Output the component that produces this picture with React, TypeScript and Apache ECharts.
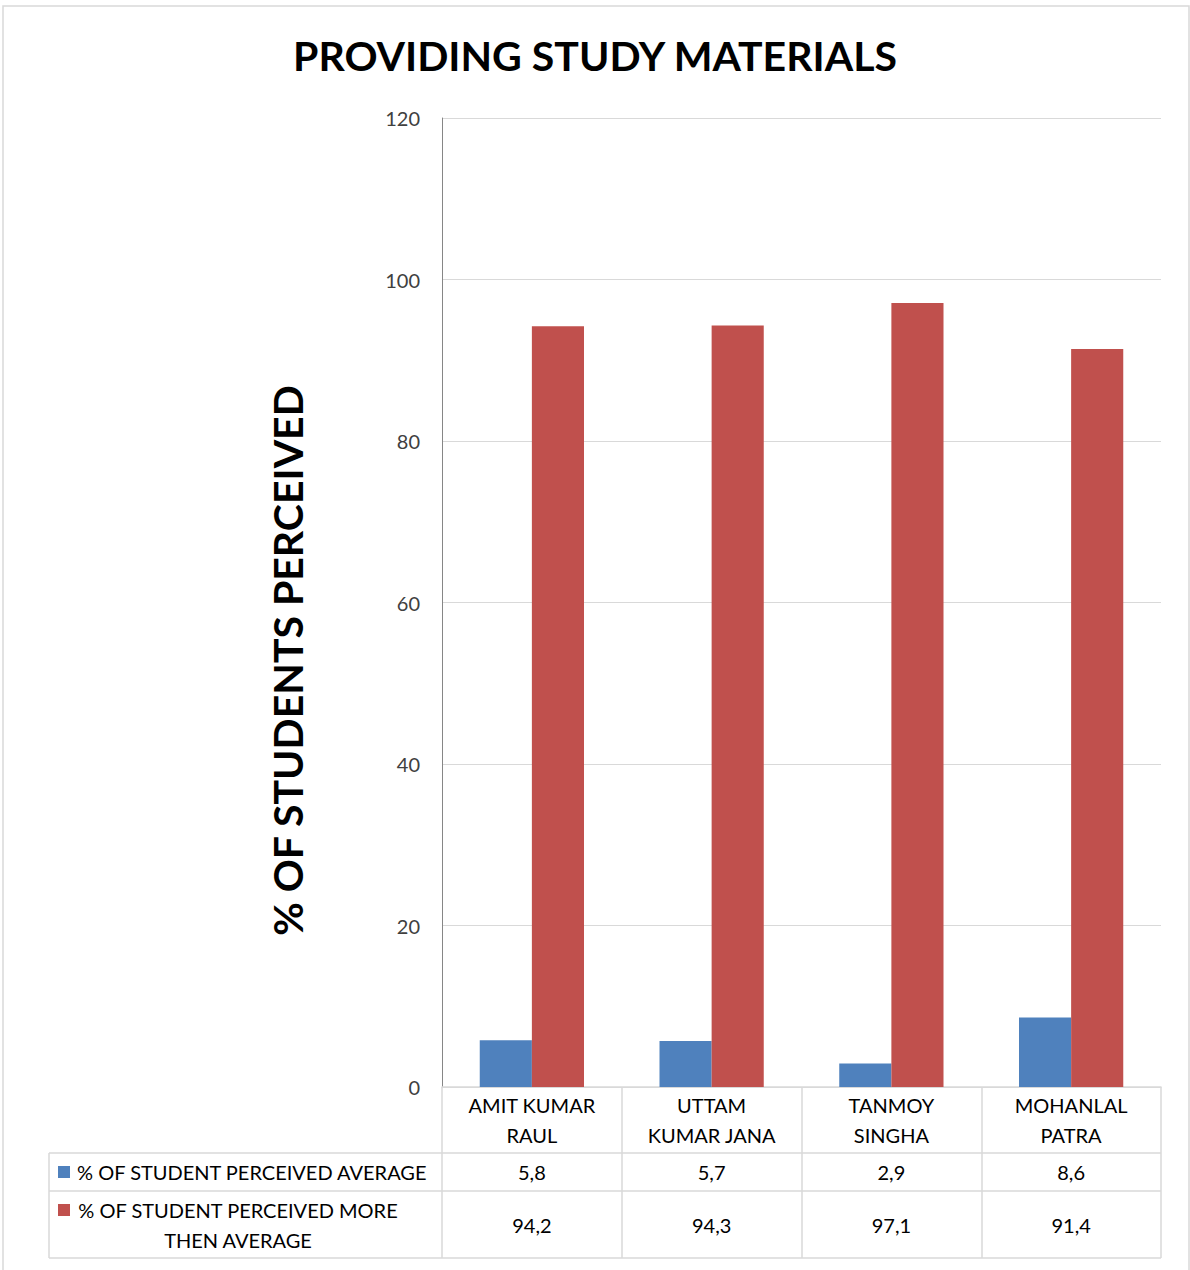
import React, { useEffect, useRef } from "react";
import * as echarts from "echarts";

const title = "PROVIDING STUDY MATERIALS";
const yAxisTitle = "% OF STUDENTS PERCEIVED";
const categories = ["AMIT KUMAR\nRAUL", "UTTAM\nKUMAR JANA", "TANMOY\nSINGHA", "MOHANLAL\nPATRA"];
const seriesNames = ["% OF STUDENT PERCEIVED AVERAGE", "% OF STUDENT PERCEIVED MORE THEN AVERAGE"];
const averageValues = [5.8, 5.7, 2.9, 8.6];
const aboveAverageValues = [94.2, 94.3, 97.1, 91.4];
const seriesColors = ["#4F81BD", "#C0504D"];
const yTicks = { min: 0, max: 120, interval: 20 };

const FONT = "Lato, 'Noto Sans', sans-serif";
const fmt = (v: number) => String(v).replace(".", ",");

export default function App() {
  const ref = useRef<HTMLDivElement>(null);
  useEffect(() => {
    if (!ref.current) return;
    const chart = echarts.init(ref.current, null, { renderer: "svg" });
    const gridLeft = 442;
    const gridRight = 1161;
    const lineColor = "#d9d9d9";
    const tableLines: any[] = [1153, 1191, 1258].map((y) => ({
      type: "line",
      shape: { x1: 49, y1: y, x2: gridRight, y2: y },
      style: { stroke: lineColor, lineWidth: 1.5 },
    }));
    tableLines.push({
      type: "line",
      shape: { x1: 49, y1: 1153, x2: 49, y2: 1258 },
      style: { stroke: lineColor, lineWidth: 1.5 },
    });
    const rowCenters = [1172, 1210];
    const rowHeaders: any[] = [];
    seriesNames.forEach((name, i) => {
      rowHeaders.push({
        type: "rect",
        shape: { x: 58, y: rowCenters[i] - 6, width: 12, height: 12 },
        style: { fill: seriesColors[i] },
      });
      if (i === 0) {
        rowHeaders.push({
          type: "text",
          x: 77,
          y: rowCenters[i],
          style: { text: name, fontSize: 20, fontFamily: FONT, fill: "#000", textAlign: "left", textVerticalAlign: "middle" },
        });
      } else {
        rowHeaders.push({
          type: "text",
          x: 238,
          y: rowCenters[i] - 15,
          style: {
            text: name.replace(" THEN", "\nTHEN"),
            fontSize: 20,
            lineHeight: 30,
            fontFamily: FONT,
            fill: "#000",
            textAlign: "center",
            textVerticalAlign: "top",
          },
        });
      }
    });

    const valueAxis = (data: string[], offset: number) => ({
      type: "category",
      data,
      position: "bottom",
      offset,
      axisLine: { show: false },
      axisTick: { show: false },
      axisLabel: { margin: 0, fontSize: 20, lineHeight: 20, fontFamily: FONT, color: "#000", interval: 0 },
    });

    chart.setOption({
      animation: false,
      backgroundColor: "#fff",
      title: {
        text: title,
        left: "center",
        top: 30,
        textStyle: { fontSize: 41, fontWeight: "bold", fontFamily: FONT, color: "#000" },
      },
      grid: { left: gridLeft, right: 1190 - gridRight, top: 118, bottom: 1270 - 1087, containLabel: false },
      xAxis: [
        {
          type: "category",
          data: categories,
          axisLine: { show: true, lineStyle: { color: lineColor, width: 1.5 } },
          axisTick: { show: true, alignWithLabel: false, length: 171, lineStyle: { color: lineColor, width: 1.5 } },
          axisLabel: { margin: 3, fontSize: 20, lineHeight: 30, fontFamily: FONT, color: "#000", interval: 0 },
        },
        valueAxis(averageValues.map(fmt), 75),
        valueAxis(aboveAverageValues.map(fmt), 128),
      ],
      yAxis: {
        type: "value",
        min: yTicks.min,
        max: yTicks.max,
        interval: yTicks.interval,
        name: yAxisTitle,
        nameLocation: "middle",
        nameRotate: 90,
        nameGap: 134,
        nameTextStyle: { fontSize: 41, fontWeight: "bold", fontFamily: FONT, color: "#000", padding: [0, 116, 0, 0] },
        axisLine: { show: true, lineStyle: { color: "#868686", width: 1 } },
        axisTick: { show: false },
        axisLabel: { margin: 22, fontSize: 20, fontFamily: FONT, color: "#404040" },
        splitLine: { lineStyle: { color: lineColor, width: 1 } },
      },
      series: [
        {
          name: seriesNames[0],
          type: "bar",
          data: averageValues,
          itemStyle: { color: seriesColors[0] },
          barGap: "0%",
          barCategoryGap: "42%",
        },
        {
          name: seriesNames[1],
          type: "bar",
          data: aboveAverageValues,
          itemStyle: { color: seriesColors[1] },
          barGap: "0%",
          barCategoryGap: "42%",
        },
      ],
      graphic: [
        {
          type: "rect",
          shape: { x: 3, y: 6, width: 1186, height: 1270 },
          style: { fill: "none", stroke: lineColor, lineWidth: 1.5 },
          silent: true,
        },
        ...tableLines,
        ...rowHeaders,
      ],
    });
    return () => chart.dispose();
  }, []);
  return <div ref={ref} style={{ position: "absolute", left: 0, top: 0, width: 1190, height: 1270 }} />;
}
